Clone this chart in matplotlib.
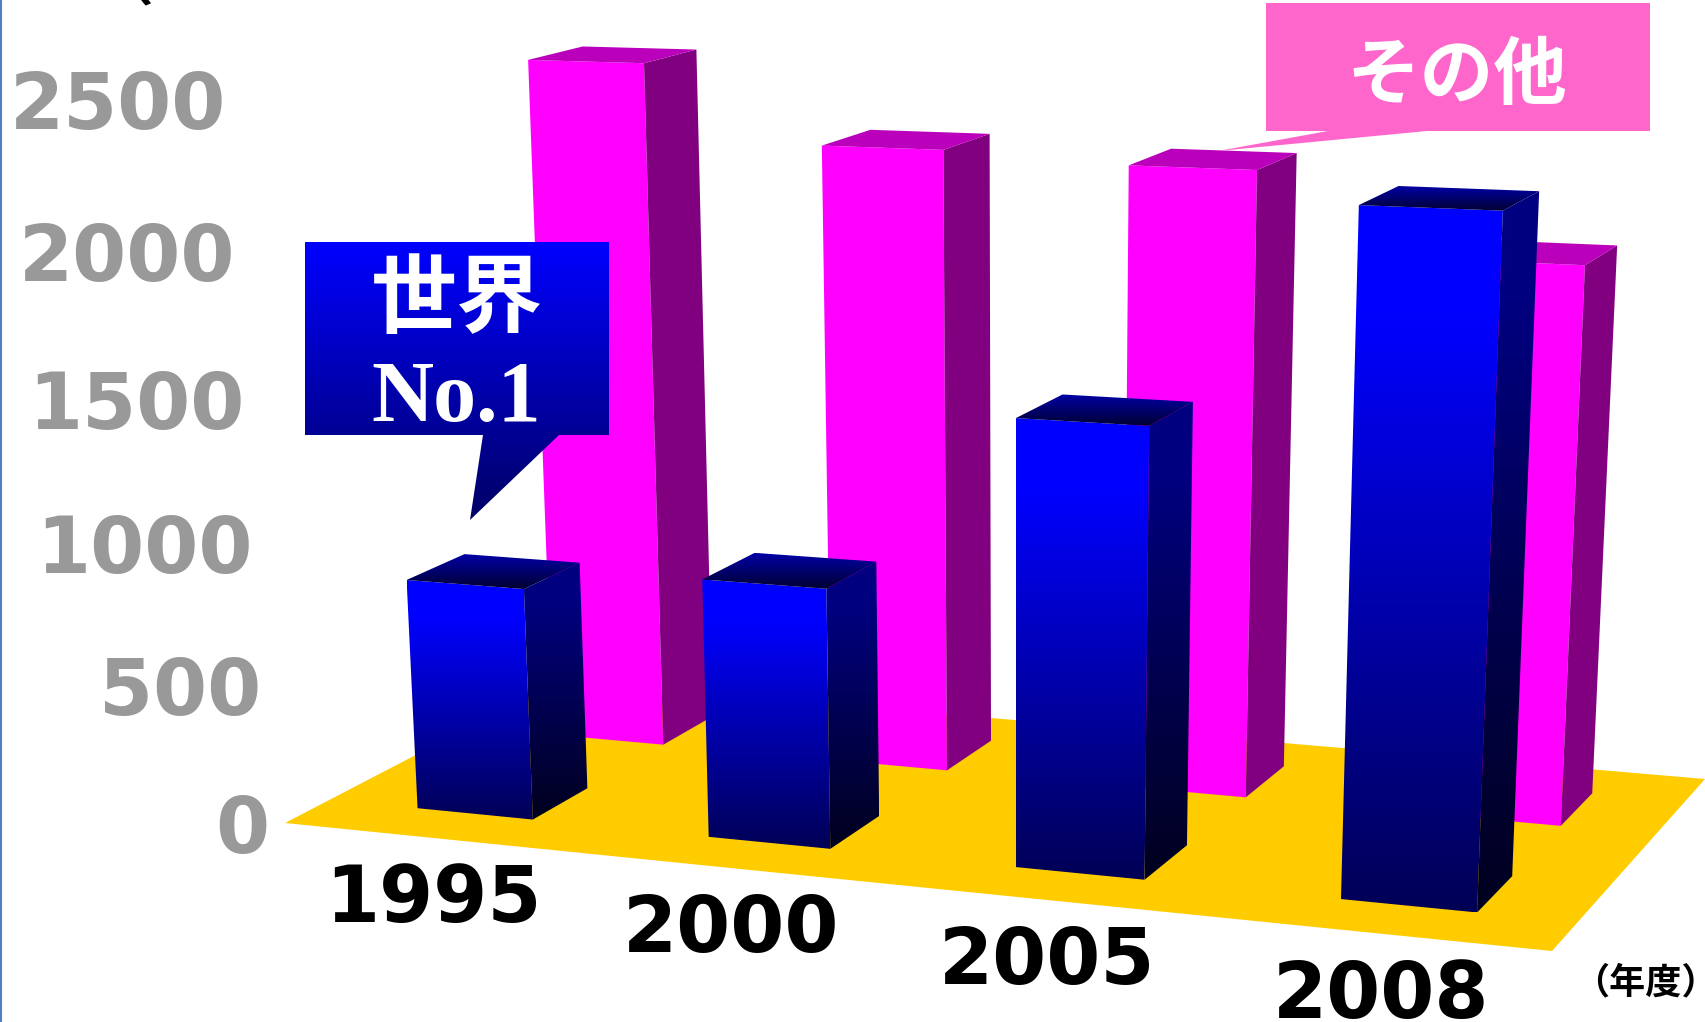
import numpy as np
import matplotlib
matplotlib.use('Agg')
import matplotlib.pyplot as plt
from matplotlib.patches import Polygon

# chart data
years = ['1995', '2000', '2005', '2008']
world_values = [826, 907, 1520, 2247]
other_values = [2485, 2220, 2190, 1919]
y_ticks = [0, 500, 1000, 1500, 2000, 2500]

W, H_PX = 1705, 1022
JP = ['Noto Sans CJK JP', 'DejaVu Sans']

# camera: floor corners in pixels, vanishing point of the verticals, height scale
FLOOR_PX = np.array([[285, 823], [1552, 951], [1705, 779], [558, 681]], float)
VERT_VP = np.array([1020.0, 13375.0])
Z_SCALE = 2.18e-5

# bar layout on the floor, as fractions of the floor (u along, v into the picture)
U_FIRST, U_STEP, U_WIDTH = 0.128, 0.2497, 0.1005
V_WORLD = (0.15, 0.352)
V_OTHER = (0.65, 0.855)


def floor_homography(corners):
    A, b = [], []
    for (u, v), (x, y) in zip([(0, 0), (1, 0), (1, 1), (0, 1)], corners):
        A.append([u, v, 1, 0, 0, 0, -u * x, -v * x])
        b.append(x)
        A.append([0, 0, 0, u, v, 1, -u * y, -v * y])
        b.append(y)
    return np.append(np.linalg.solve(np.array(A), np.array(b)), 1).reshape(3, 3)


HOMOG = floor_homography(FLOOR_PX)


def project(u, v, z=0.0):
    q = HOMOG @ np.array([u, v, 1.0]) - z * Z_SCALE * np.array([VERT_VP[0], VERT_VP[1], 1.0])
    return q[:2] / q[2]


def gradient_poly(ax, pts, top, bottom, zorder, hold=0.0):
    pts = np.array(pts)
    x0, y0 = pts.min(axis=0)
    x1, y1 = pts.max(axis=0)
    # hold keeps the top colour over the first part of the face
    t = np.clip((np.linspace(0, 1, 128) - hold) / (1 - hold), 0, 1)[:, None]
    grad = (np.array(top) * (1 - t) + np.array(bottom) * t)[:, None, :] / 255.0
    im = ax.imshow(grad, extent=(x0, x1, y1, y0), aspect='auto', origin='upper',
                   interpolation='bilinear', zorder=zorder)
    clip = Polygon(pts, closed=True, transform=ax.transData)
    im.set_clip_path(clip)


def faces(i, value, vrange):
    uc = U_FIRST + U_STEP * i
    ul, ur = uc - U_WIDTH / 2, uc + U_WIDTH / 2
    vf, vb = vrange
    front = [project(ul, vf, value), project(ur, vf, value), project(ur, vf), project(ul, vf)]
    side = [project(ur, vf, value), project(ur, vb, value), project(ur, vb), project(ur, vf)]
    top = [project(ul, vf, value), project(ul, vb, value), project(ur, vb, value), project(ur, vf, value)]
    return front, side, top


fig = plt.figure(figsize=(W / 100, H_PX / 100), dpi=100)
ax = fig.add_axes([0, 0, 1, 1])

# floor
floor = [project(0, 0), project(1, 0), project(1, 1), project(0, 1)]
ax.add_patch(Polygon(floor, closed=True, fc='#FFCC00', ec='none', zorder=1))

# back row
for i, val in enumerate(other_values):
    front, side, top = faces(i, val, V_OTHER)
    ax.add_patch(Polygon(front, closed=True, fc='#FF00FF', ec='none', zorder=2))
    ax.add_patch(Polygon(side, closed=True, fc='#800080', ec='none', zorder=2))
    ax.add_patch(Polygon(top, closed=True, fc='#BB00BB', ec='none', zorder=2))

# front row, gradients run over each face
for i, val in enumerate(world_values):
    front, side, top = faces(i, val, V_WORLD)
    gradient_poly(ax, front, (0, 0, 255), (0, 0, 85), 3, hold=0.15)
    gradient_poly(ax, side, (0, 0, 128), (0, 0, 30), 3, hold=0.15)
    gradient_poly(ax, top, (0, 0, 165), (0, 0, 50), 3)

# value labels lean with the verticals
for t in y_ticks:
    x, y = project(0, 0, t)
    ax.text(x - 16, y + 8, str(t), ha='right', va='center', fontsize=56, fontweight='bold',
            color='#999999', zorder=5)

for i, label in enumerate(years):
    x, y = project(U_FIRST + U_STEP * i, 0)
    ax.text(x + 1, y + 62, label, ha='center', va='center', fontsize=56, fontweight='bold',
            color='black', zorder=5)

# callouts
gradient_poly(ax, [(305, 242), (609, 242), (609, 435), (559, 435), (470, 520), (483, 435), (305, 435)],
              (0, 0, 255), (0, 0, 100), 6)
ax.text(457, 301, '世界', ha='center', va='center', fontsize=62, fontweight='bold',
        family=JP, color='white', zorder=7)
ax.text(456, 400, 'No.1', ha='center', va='center', fontsize=62, fontweight='bold',
        family='Liberation Serif', color='white', zorder=7)

ax.add_patch(Polygon([(1266, 3), (1650, 3), (1650, 131), (1427, 131), (1218, 151), (1328, 131), (1266, 131)],
                     closed=True, fc='#FF66CC', ec='none', zorder=6))
ax.text(1457, 77, 'その他', ha='center', va='center', fontsize=53, fontweight='bold',
        family=JP, color='white', zorder=7)

ax.text(1645, 983, '（年度）', ha='center', va='center', fontsize=26, fontweight='bold',
        family=JP, color='black', zorder=7)
# cut off by the top edge of the slide
ax.text(125, 0, '（', ha='center', va='baseline', fontsize=40, fontweight='bold',
        family=JP, color='black', zorder=7)

ax.plot([0.5, 0.5], [0, H_PX], color='#4F81BD', lw=1.5, zorder=8)

ax.set_xlim(0, W)
ax.set_ylim(H_PX, 0)
ax.axis('off')
fig.savefig('out.png', dpi=100, facecolor='white')
